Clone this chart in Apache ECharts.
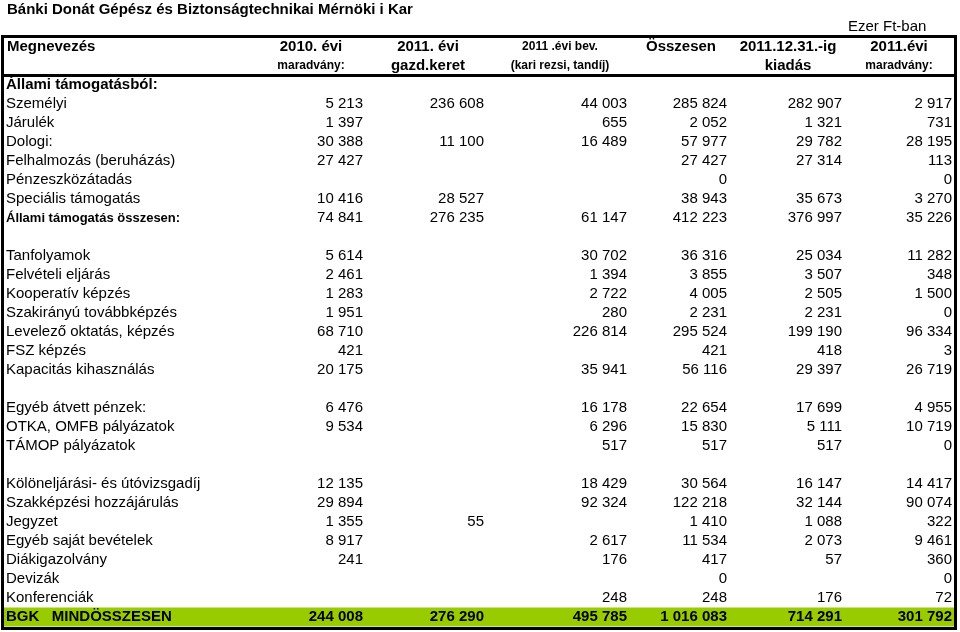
<!DOCTYPE html>
<html><head><meta charset="utf-8">
<script src="https://cdn.jsdelivr.net/npm/echarts@6/dist/echarts.min.js"></script>
<style>html,body{margin:0;padding:0;background:#fff}#c{width:960px;height:632px}</style>
</head><body><div id="c"></div><script>
// ---------- data ----------
const titleText = 'Bánki Donát Gépész és Biztonságtechnikai Mérnöki i Kar';
const unitNote = 'Ezer Ft-ban';
const headerLine1 = ['Megnevezés', '2010. évi', '2011. évi', '2011 .évi bev.', 'Összesen', '2011.12.31.-ig', '2011.évi'];
const headerLine2 = ['', 'maradvány:', 'gazd.keret', '(kari rezsi, tandíj)', '', 'kiadás', 'maradvány:'];
const rowLabels = [
  'Állami támogatásból:', 'Személyi', 'Járulék', 'Dologi:', 'Felhalmozás (beruházás)', 'Pénzeszközátadás',
  'Speciális támogatás', 'Állami támogatás összesen:', '',
  'Tanfolyamok', 'Felvételi eljárás', 'Kooperatív képzés', 'Szakirányú továbbképzés', 'Levelező oktatás, képzés',
  'FSZ képzés', 'Kapacitás kihasználás', '',
  'Egyéb átvett pénzek:', 'OTKA, OMFB pályázatok', 'TÁMOP pályázatok', '',
  'Kölöneljárási- és útóvizsgadíj', 'Szakképzési hozzájárulás', 'Jegyzet', 'Egyéb saját bevételek',
  'Diákigazolvány', 'Devizák', 'Konferenciák', 'BGK   MINDÖSSZESEN'
];
const rowKinds = [
  'section', 'item', 'item', 'item', 'item', 'item', 'item', 'subtotal', 'blank',
  'item', 'item', 'item', 'item', 'item', 'item', 'item', 'blank',
  'item', 'item', 'item', 'blank',
  'item', 'item', 'item', 'item', 'item', 'item', 'item', 'total'
];
const maradvany2010 = [null, 5213, 1397, 30388, 27427, null, 10416, 74841, null,
  5614, 2461, 1283, 1951, 68710, 421, 20175, null,
  6476, 9534, null, null,
  12135, 29894, 1355, 8917, 241, null, null, 244008];
const gazdKeret2011 = [null, 236608, null, 11100, null, null, 28527, 276235, null,
  null, null, null, null, null, null, null, null,
  null, null, null, null,
  null, null, 55, null, null, null, null, 276290];
const bevetel2011 = [null, 44003, 655, 16489, null, null, null, 61147, null,
  30702, 1394, 2722, 280, 226814, null, 35941, null,
  16178, 6296, 517, null,
  18429, 92324, null, 2617, 176, null, 248, 495785];
const osszesen = [null, 285824, 2052, 57977, 27427, 0, 38943, 412223, null,
  36316, 3855, 4005, 2231, 295524, 421, 56116, null,
  22654, 15830, 517, null,
  30564, 122218, 1410, 11534, 417, 0, 248, 1016083];
const kiadas2011 = [null, 282907, 1321, 29782, 27314, null, 35673, 376997, null,
  25034, 3507, 2505, 2231, 199190, 418, 29397, null,
  17699, 5111, 517, null,
  16147, 32144, 1088, 2073, 57, null, 176, 714291];
const maradvany2011 = [null, 2917, 731, 28195, 113, 0, 3270, 35226, null,
  11282, 348, 1500, 0, 96334, 3, 26719, null,
  4955, 10719, 0, null,
  14417, 90074, 322, 9461, 360, 0, 72, 301792];
const valueColumns = [maradvany2010, gazdKeret2011, bevetel2011, osszesen, kiadas2011, maradvany2011];

// ---------- layout / style ----------
const FONT = '"Liberation Sans", Arial, Helvetica, sans-serif';
const labelLeft = 6;
const colRight = [363, 484, 627, 727, 842, 952];
const headCenter = [7, 311, 428, 560, 681, 788, 899];
const head1Size = [15, 15, 15, 12, 15, 15, 15];
const head2Size = [15, 12, 15, 12, 15, 15, 12];
const GREEN = '#99cc00';

function fmt(v) { return String(v).replace(/\B(?=(\d{3})+(?!\d))/g, ' '); }

// table rows on the category axis: 2 header lines + body rows
const axisRows = ['h1', 'h2'].concat(rowLabels.map((r, i) => 'r' + i));
const totalRow = 2 + rowKinds.indexOf('total');

const cells = [];
headerLine1.forEach((t, c) => {
  if (!t) return;
  cells.push({ x: headCenter[c], row: 0, text: t, align: c === 0 ? 'left' : 'center', size: head1Size[c], bold: true });
});
headerLine2.forEach((t, c) => {
  if (!t) return;
  cells.push({ x: headCenter[c], row: 1, text: t, align: c === 0 ? 'left' : 'center', size: head2Size[c], bold: true });
});
rowLabels.forEach((lab, i) => {
  const kind = rowKinds[i];
  if (kind === 'blank') return;
  const bold = kind !== 'item';
  const size = kind === 'subtotal' ? 13 : 15;
  cells.push({ x: labelLeft, row: i + 2, text: lab, align: 'left', size: size, bold: bold });
  valueColumns.forEach((col, c) => {
    const v = col[i];
    if (v === null || v === undefined) return;
    cells.push({ x: colRight[c], row: i + 2, text: fmt(v), align: 'right', size: 15, bold: kind === 'total' });
  });
});

const chart = echarts.init(document.getElementById('c'), null, { renderer: 'canvas' });
chart.setOption({
  animation: false,
  backgroundColor: '#fff',
  title: [
    { text: titleText, left: 7, top: 1, padding: 0,
      textStyle: { fontFamily: FONT, fontSize: 15, fontWeight: 'bold', color: '#000', lineHeight: 18 } },
    { text: unitNote, left: 848, top: 18, padding: 0,
      textStyle: { fontFamily: FONT, fontSize: 15, fontWeight: 'normal', color: '#000', lineHeight: 18 } }
  ],
  grid: { left: 0, top: 37.5, width: 960, height: 589 },
  xAxis: { type: 'value', min: 0, max: 960, show: false },
  yAxis: { type: 'category', data: axisRows, inverse: true, show: false, boundaryGap: true },
  series: [
    {
      type: 'custom', silent: true, z: 1,
      data: [[0, totalRow]],
      renderItem: function (params, api) {
        const cs = params.coordSys;
        const band = api.size([0, 1])[1];
        const pt = api.coord([0, totalRow]);
        const hb = api.coord([0, 1])[1] + band / 2;
        return {
          type: 'group',
          children: [
            { type: 'rect', shape: { x: cs.x + 2, y: pt[1] - band / 2, width: cs.width - 6, height: band },
              style: { fill: GREEN } },
            { type: 'rect', shape: { x: cs.x + 2.5, y: cs.y - 1, width: 953, height: cs.height + 3 },
              style: { fill: null, stroke: '#000', lineWidth: 3 } },
            { type: 'line', shape: { x1: cs.x + 1, y1: hb, x2: cs.x + 957, y2: hb },
              style: { stroke: '#000', lineWidth: 3 } }
          ]
        };
      }
    },
    {
      type: 'custom', silent: true, z: 2,
      data: cells.map(c => [c.x, c.row]),
      renderItem: function (params, api) {
        const c = cells[params.dataIndex];
        const p = api.coord([api.value(0), api.value(1)]);
        return {
          type: 'text', x: p[0], y: p[1],
          style: {
            text: c.text, fill: '#000', align: c.align, verticalAlign: 'middle',
            font: (c.bold ? 'bold ' : '') + c.size + 'px ' + FONT
          }
        };
      }
    }
  ]
});
</script></body></html>
